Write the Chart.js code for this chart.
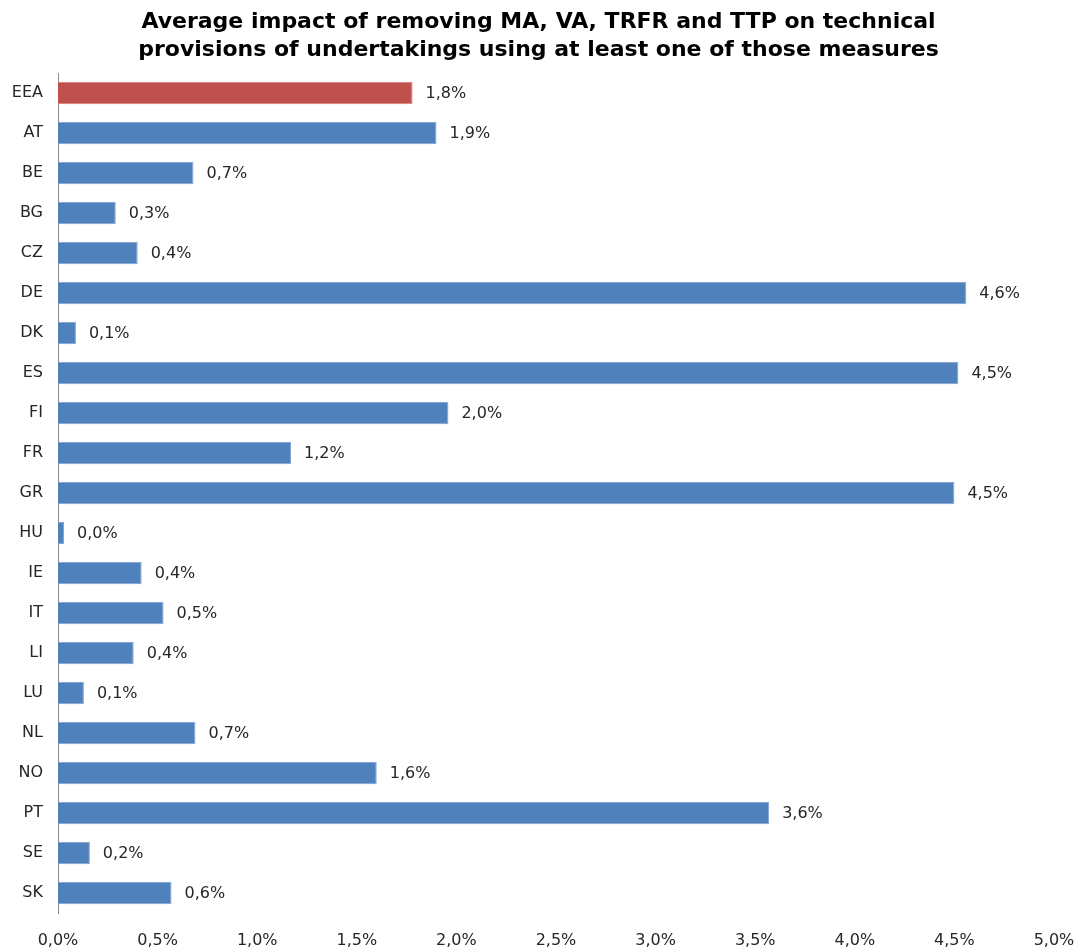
<!DOCTYPE html>
<html>
<head>
<meta charset="utf-8">
<script src="https://cdn.jsdelivr.net/npm/chart.js@4/dist/chart.umd.min.js"></script>
<style>
  html, body { margin: 0; padding: 0; background: #ffffff; }
  #wrap { width: 1077px; height: 949px; position: relative; }
</style>
</head>
<body>
<div id="wrap"><canvas id="chart" width="1077" height="949"></canvas></div>
<script>
// Countries (EEA aggregate first)
const countries = ['EEA', 'AT', 'BE', 'BG', 'CZ', 'DE', 'DK', 'ES', 'FI', 'FR', 'GR',
                   'HU', 'IE', 'IT', 'LI', 'LU', 'NL', 'NO', 'PT', 'SE', 'SK'];

// Average impact on technical provisions, in percent
const impactPct = [1.78, 1.90, 0.68, 0.29, 0.40, 4.56, 0.09, 4.52, 1.96, 1.17, 4.50,
                   0.03, 0.42, 0.53, 0.38, 0.13, 0.69, 1.60, 3.57, 0.16, 0.57];

// Value axis ticks
const axisTicks = [0, 0.5, 1.0, 1.5, 2.0, 2.5, 3.0, 3.5, 4.0, 4.5, 5.0];

const titleLines = ['Average impact of removing MA, VA, TRFR and TTP on technical',
                    'provisions of undertakings using at least one of those measures'];

const BLUE = '#4F81BD';
const RED = '#C0504D';
const TEXT = '#262626';
const FONT = "'DejaVu Sans', Verdana, sans-serif";

const fmtPct = v => v.toFixed(1).replace('.', ',') + '%';

// Value labels drawn just to the right of each bar
const valueLabels = {
  id: 'valueLabels',
  afterDatasetsDraw(chart) {
    const ctx = chart.ctx;
    const meta = chart.getDatasetMeta(0);
    ctx.save();
    ctx.font = '16px ' + FONT;
    ctx.fillStyle = TEXT;
    ctx.textAlign = 'left';
    ctx.textBaseline = 'middle';
    meta.data.forEach((bar, i) => {
      ctx.fillText(fmtPct(impactPct[i]), bar.x + 13, bar.y + 1);
    });
    ctx.restore();
  }
};

new Chart(document.getElementById('chart'), {
  type: 'bar',
  data: {
    labels: countries,
    datasets: [{
      data: impactPct,
      backgroundColor: countries.map(c => c === 'EEA' ? RED : BLUE),
      borderColor: countries.map(c => c === 'EEA' ? '#D9817F' : '#7FA3D3'),
      borderWidth: 1,
      borderSkipped: 'left',
      categoryPercentage: 1.0,
      barPercentage: 0.56
    }]
  },
  options: {
    indexAxis: 'y',
    responsive: false,
    animation: false,
    layout: { padding: 0 },
    plugins: {
      legend: { display: false },
      tooltip: { enabled: false },
      title: {
        display: true,
        text: titleLines,
        color: '#000000',
        font: { family: FONT, size: 22, weight: 'bold', lineHeight: 28 / 22 },
        padding: { top: 8, bottom: 9 }
      }
    },
    scales: {
      x: {
        type: 'linear',
        min: 0,
        max: 5,
        afterBuildTicks(scale) { scale.ticks = axisTicks.map(v => ({ value: v })); },
        ticks: {
          color: TEXT,
          font: { family: FONT, size: 16 },
          padding: 18,
          maxRotation: 0,
          callback: v => fmtPct(v)
        },
        grid: { display: false, drawTicks: false },
        border: { display: false },
        afterFit(scale) {
          scale.height = 36;
          scale.paddingLeft = 0;
          scale.paddingRight = 23;
        }
      },
      y: {
        ticks: {
          color: TEXT,
          font: { family: FONT, size: 16 },
          padding: 15
        },
        grid: { display: false, drawTicks: false },
        border: { display: true, color: '#8C8C8C', width: 1 },
        afterFit(scale) { scale.width = 58; }
      }
    }
  },
  plugins: [valueLabels]
});
</script>
</body>
</html>
